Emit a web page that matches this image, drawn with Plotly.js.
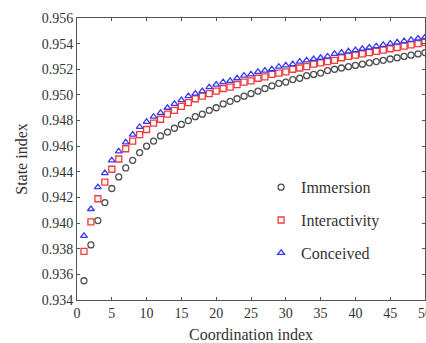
<!DOCTYPE html>
<html>
<head>
<meta charset="utf-8">
<script src="https://cdn.plot.ly/plotly-3.0.1.min.js"></script>
<style>html,body{margin:0;padding:0;background:#fff;}#chart{width:426px;height:343px;}</style>
</head>
<body>
<div id="chart"></div>
<script>
var coordination = [1,2,3,4,5,6,7,8,9,10,11,12,13,14,15,16,17,18,19,20,21,22,23,24,25,26,27,28,29,30,31,32,33,34,35,36,37,38,39,40,41,42,43,44,45,46,47,48,49,50];
var immersion = [0.9355,0.9383,0.9402,0.9416,0.9427,0.9436,0.9443,0.9449,0.9455,0.9460,
  0.9464,0.9468,0.9471,0.9474,0.9477,0.9480,0.9483,0.9485,0.9488,0.9490,
  0.9493,0.9495,0.9497,0.9499,0.9501,0.9503,0.9505,0.9507,0.9509,0.9510,
  0.9512,0.9513,0.9515,0.9516,0.9517,0.9519,0.9520,0.9521,0.9522,0.9523,
  0.9524,0.9525,0.9526,0.9527,0.9528,0.9529,0.9530,0.9531,0.9532,0.9533];
var interactivity = [0.9378,0.9401,0.9419,0.9432,0.9442,0.9450,0.9458,0.9464,0.9469,0.9473,
  0.9478,0.9481,0.9485,0.9488,0.9491,0.9494,0.9497,0.9499,0.9501,0.9503,
  0.9505,0.9506,0.9508,0.9510,0.9511,0.9513,0.9514,0.9516,0.9517,0.9518,
  0.9520,0.9521,0.9522,0.9524,0.9525,0.9526,0.9527,0.9529,0.9530,0.9531,
  0.9532,0.9533,0.9534,0.9535,0.9536,0.9537,0.9538,0.9539,0.9540,0.9541];
var conceived = [0.9390,0.9411,0.9428,0.9439,0.9449,0.9456,0.9463,0.9469,0.9475,0.9479,
  0.9483,0.9486,0.9490,0.9493,0.9496,0.9499,0.9501,0.9503,0.9506,0.9508,
  0.9510,0.9511,0.9513,0.9515,0.9516,0.9518,0.9519,0.9520,0.9522,0.9523,
  0.9524,0.9526,0.9527,0.9528,0.9529,0.9530,0.9532,0.9533,0.9534,0.9535,
  0.9536,0.9537,0.9538,0.9539,0.9540,0.9541,0.9542,0.9543,0.9544,0.9545];
var seriesNames = ['Immersion','Interactivity','Conceived'];
var xTicks = [0,5,10,15,20,25,30,35,40,45,50];
var yTicks = [0.934,0.936,0.938,0.940,0.942,0.944,0.946,0.948,0.950,0.952,0.954,0.956];

var font = '"Times New Roman", "Liberation Serif", "DejaVu Serif", serif';
function mk(y, name, sym, col, grp){
  return {x: coordination, y: y, name: name, type:'scatter', mode:'markers',
    legendgroup: grp,
    marker:{symbol:sym, size:6, color:col, line:{color:col, width:1.3}}, cliponaxis:false};
}
var data = [
  mk(immersion, seriesNames[0], 'circle-open', '#505050', 'a'),
  mk(interactivity, seriesNames[1], 'square-open', '#f03c3c', 'b'),
  mk(conceived, seriesNames[2], 'triangle-up-open', '#3a3af0', 'c')
];
var axisCommon = {showgrid:false, zeroline:false, showline:true, linecolor:'#555', linewidth:1,
  mirror:'ticks', ticks:'inside', ticklen:3, tickcolor:'#555', ticklabeloverflow:'allow',
  tickfont:{family:font, size:14, color:'#333'}};
var layout = {
  width:426, height:343,
  margin:{l:77, r:1, t:18, b:43},
  paper_bgcolor:'#fff', plot_bgcolor:'#fff',
  font:{family:font, color:'#333'},
  xaxis: Object.assign({}, axisCommon, {range:[0,50], tickvals:xTicks, ticktext:xTicks.map(String),
    title:{text:'Coordination index', font:{family:font, size:16, color:'#333'}, standoff:14}}),
  yaxis: Object.assign({}, axisCommon, {range:[0.934,0.956], tickvals:yTicks, ticktext:yTicks.map(function(v){return v.toFixed(3);}),
    title:{text:'State index', font:{family:font, size:16, color:'#333'}, standoff:10}}),
  legend:{x:0.529, y:0.46, xanchor:'left', yanchor:'top', bgcolor:'rgba(0,0,0,0)',
    traceorder:'grouped', tracegroupgap:9, font:{family:font, size:16, color:'#333'}},
  showlegend:true
};
Plotly.newPlot('chart', data, layout, {displayModeBar:false, staticPlot:true});
</script>
</body>
</html>
